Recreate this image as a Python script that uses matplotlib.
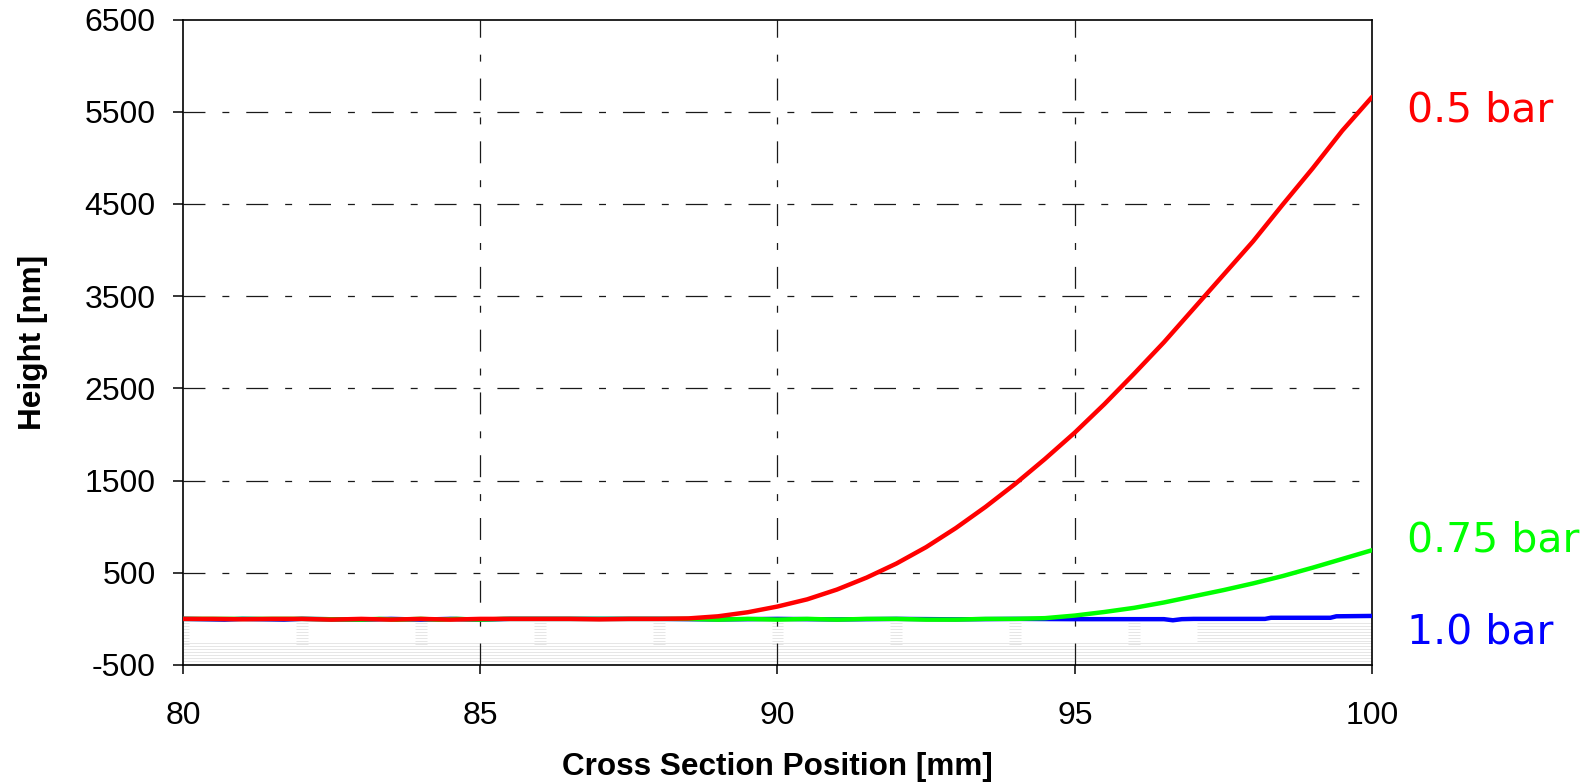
import matplotlib
matplotlib.use("Agg")
import matplotlib.pyplot as plt
import numpy as np

# ---- profile data (cross section position in mm, height in nm) ----
x_05 = [80.0, 80.5, 81.0, 81.5, 82.0, 82.5, 83.0, 83.5, 84.0, 84.5, 85.0,
        85.5, 86.0, 86.5, 87.0, 87.5, 88.0, 88.5, 89.0, 89.5, 90.0, 90.5,
        91.0, 91.5, 92.0, 92.5, 93.0, 93.5, 94.0, 94.5, 95.0, 95.5, 96.0,
        96.5, 97.0, 97.5, 98.0, 98.5, 99.0, 99.5, 100.0]
h_05 = [0, 0, -4, 0, 0, -8, 0, -8, 0, -8, 0,
        0, 0, 0, -5, 0, 0, 5, 28, 72, 134, 212,
        318, 448, 600, 778, 985, 1215, 1465, 1735, 2020, 2330, 2660,
        3000, 3365, 3730, 4095, 4495, 4885, 5295, 5660]

x_075 = [80.0, 81.0, 82.0, 83.0, 83.3, 83.6, 84.0, 84.3, 84.6, 85.0, 85.4,
         86.0, 87.0, 88.0, 88.5, 89.0, 89.5, 90.0, 90.5, 91.0, 91.5, 92.0,
         92.5, 93.0, 93.5, 94.0, 94.5, 95.0, 95.5, 96.0, 96.5, 97.0, 97.5,
         98.0, 98.5, 99.0, 99.5, 100.0]
h_075 = [0, 0, 0, -8, 0, -8, 0, -8, 0, -8, 0,
         0, 0, 0, 0, -8, 0, -8, 0, -8, 0, 0,
         -8, -8, 0, 0, 8, 36, 75, 120, 178, 245, 312,
         385, 465, 555, 650, 745]

x_10 = [80.0, 80.7, 81.0, 81.7, 82.0, 83.0, 83.5, 84.0, 84.5, 85.0, 85.5,
        86.0, 88.0, 89.0, 90.0, 91.0, 92.0, 93.0, 94.0, 95.0, 96.0, 96.5,
        96.65, 96.8, 97.0, 98.2, 98.3, 99.3, 99.4, 100.0]
h_10 = [0, -8, 0, -8, 0, -8, 0, -8, 0, -8, 0,
        0, 0, -6, 0, -6, 0, -5, 0, -3, -3, -3,
        -15, -3, 0, 0, 12, 12, 28, 32]

series_labels = ["0.5 bar", "0.75 bar", "1.0 bar"]
series_colors = ["#ff0000", "#00ff00", "#0000ff"]

x_ticks = [80, 85, 90, 95, 100]
y_ticks = [-500, 500, 1500, 2500, 3500, 4500, 5500, 6500]

# ---- figure ----
plt.rcParams["lines.scale_dashes"] = False
fig = plt.figure(figsize=(15.88, 7.84), dpi=100)
ax = fig.add_axes([0.1152, 0.1518, 0.7488, 0.8233])

ax.set_xlim(80, 100)
ax.set_ylim(-500, 6500)

# faint hatching of the substrate region below the profiles
hatch_col = "#e2e2e2"
for xc in [80.0, 82.0, 84.0, 86.0, 88.0, 90.0, 92.0, 94.0, 96.0]:
    x0 = max(80.0, xc - 0.1)
    ax.hlines(np.arange(-40, -290, -33), x0, xc + 0.1, color=hatch_col,
              lw=0.6, zorder=0.5)
ax.hlines(np.arange(-262, -490, -33), 80, 100, color=hatch_col, lw=0.6, zorder=0.5)
ax.hlines(np.arange(-45, -262, -33), 97.05, 100, color=hatch_col, lw=0.6, zorder=0.5)

# dash-dot grid
grid_dash = (0, (15.8, 12.2, 5.0, 12.2))
for xv in x_ticks[1:-1]:
    ax.axvline(xv, color="#1a1a1a", lw=0.9, ls=grid_dash, zorder=1)
for yv in y_ticks[1:-1]:
    ax.axhline(yv, color="#1a1a1a", lw=0.9, ls=grid_dash, zorder=1)

line_kw = dict(lw=3.2, solid_joinstyle="round", solid_capstyle="round")
ax.plot(x_10, h_10, color=series_colors[2], zorder=3, **line_kw)
ax.plot(x_075, h_075, color=series_colors[1], zorder=4, **line_kw)
ax.plot(x_05, h_05, color=series_colors[0], zorder=5, **line_kw)

# series labels to the right of the plot
label_y = [5390, 730, -271]
for txt, col, yb in zip(series_labels, series_colors, label_y):
    ax.text(100.58, yb, txt, color=col, fontsize=29.5, family="DejaVu Sans",
            ha="left", va="baseline", clip_on=False)

ax.set_xticks(x_ticks)
ax.set_yticks(y_ticks)
ax.set_xticklabels([str(v) for v in x_ticks])
ax.set_yticklabels([str(v) for v in y_ticks])
for lab in ax.get_xticklabels() + ax.get_yticklabels():
    lab.set_family("Liberation Sans")
    lab.set_fontsize(23)
ax.tick_params(axis="y", direction="out", length=7.2, width=1.1, pad=12.5)
ax.tick_params(axis="x", direction="out", length=6.5, width=1.1, pad=19.5)

for sp in ax.spines.values():
    sp.set_linewidth(1.2)
    sp.set_color("black")

ax.set_xlabel("Cross Section Position [mm]", family="Liberation Sans",
              fontweight="bold", fontsize=22.7, labelpad=15)
ax.set_ylabel("Height [nm]", family="Liberation Sans", fontweight="bold",
              fontsize=22.7, labelpad=26)

fig.savefig("out.png", dpi=100)
